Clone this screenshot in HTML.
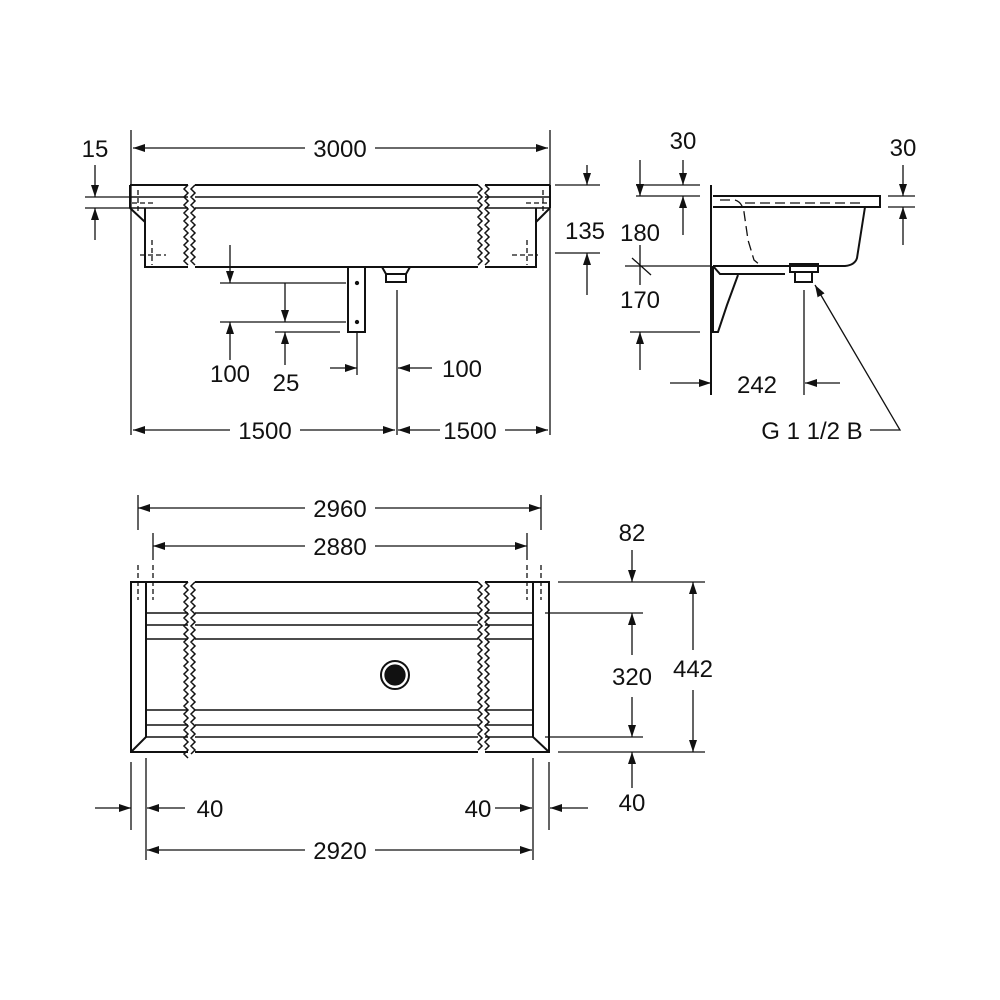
<!DOCTYPE html>
<html><head><style>body{margin:0;background:#fff}svg{display:block}text{font-family:"Liberation Sans",sans-serif;font-size:24px;fill:#111}</style></head>
<body>
<svg width="1000" height="1000" viewBox="0 0 1000 1000" xmlns="http://www.w3.org/2000/svg">
<defs>
<marker id="a" viewBox="0 0 12 8" refX="12" refY="4" markerWidth="12" markerHeight="8" markerUnits="userSpaceOnUse" orient="auto"><path d="M0,0 L12,4 L0,8 z" fill="#111"/></marker>
</defs>
<g stroke="#111" fill="none" stroke-width="1.3">
<!-- FRONT VIEW -->
<g stroke-width="2">
<path d="M130,185 H188 M195,185 H478 M485,185 H550"/>
<path d="M130,185 V208 M550,185 V208"/>
<path d="M130,197 H188 M195,197 H478 M485,197 H550" stroke-width="1.5"/>
<path d="M130,208 H188 M195,208 H478 M485,208 H550" stroke-width="1.5"/>
<path d="M145,208 V267 H188 M195,267 H478 M485,267 H536 V208"/>
<path d="M130,208 L145,222 M550,208 L536,222"/>
<path d="M348,267 V332 H365 V267"/>
<path d="M382,267 H410 L406,274 H386 Z M386,274 V282 H406 V274"/>
</g>
<path d="M188,185 l-4,4 4,4 -4,4 4,4 -4,4 4,4 -4,4 4,4 -4,4 4,4 -4,4 4,4 -4,4 4,4 -4,4 4,4 -4,4 4,4 -4,4 4,4 M195,185 l-4,4 4,4 -4,4 4,4 -4,4 4,4 -4,4 4,4 -4,4 4,4 -4,4 4,4 -4,4 4,4 -4,4 4,4 -4,4 4,4 -4,4 4,4 M478,185 l4,4 -4,4 4,4 -4,4 4,4 -4,4 4,4 -4,4 4,4 -4,4 4,4 -4,4 4,4 -4,4 4,4 -4,4 4,4 -4,4 4,4 -4,4 M485,185 l4,4 -4,4 4,4 -4,4 4,4 -4,4 4,4 -4,4 4,4 -4,4 4,4 -4,4 4,4 -4,4 4,4 -4,4 4,4 -4,4 4,4 -4,4" stroke-width="1.5"/>
<path d="M138,190 v22 M132,203 h22 M152,240 v25 M140,255 h26 M543,190 v22 M526,203 h22 M527,240 v25 M512,255 h26" stroke-dasharray="5,3"/>
<circle cx="357" cy="283" r="1.5" fill="#111"/><circle cx="357" cy="322" r="1.5" fill="#111"/>
<!-- front dims -->
<path d="M131,130 V435 M550,130 V435"/>
<path d="M305,148 H133" marker-end="url(#a)"/><path d="M375,148 H548" marker-end="url(#a)"/>
<path d="M85,197 H130 M85,208 H130"/>
<path d="M95,165 V197" marker-end="url(#a)"/><path d="M95,240 V208" marker-end="url(#a)"/>
<path d="M555,253 H600 M555,185 H600" />
<path d="M587,165 V185" marker-end="url(#a)"/><path d="M587,295 V253" marker-end="url(#a)"/>
<path d="M220,283 H346 M220,322 H346 M275,332 H340"/>
<path d="M230,245 V283" marker-end="url(#a)"/><path d="M230,360 V322" marker-end="url(#a)"/>
<path d="M285,283 V322" marker-end="url(#a)"/><path d="M285,365 V332" marker-end="url(#a)"/>
<path d="M357,332 V375"/><path d="M330,368 H357" marker-end="url(#a)"/>
<path d="M397,290 V435"/><path d="M432,368 H398" marker-end="url(#a)"/>
<path d="M230,430 H133" marker-end="url(#a)"/><path d="M300,430 H395" marker-end="url(#a)"/>
<path d="M440,430 H398" marker-end="url(#a)"/><path d="M505,430 H548" marker-end="url(#a)"/>
<!-- SIDE VIEW -->
<g stroke-width="2">
<path d="M711,185 V395"/>
<path d="M713,196 H880 V207 H713"/>
<path d="M865,207 L857,258 Q855,265 845,266 H713"/>
<path d="M713,266 L720,274 H785 M713,266 V332 H718 L727,305 L738,275"/>
<path d="M790,264 H818 V272 H790 Z M795,272 V282 H812 V272"/>
</g>
<path d="M720,200 H735 Q742,202 744,212 L748,240 L754,260 L760,265 M745,203 H860" stroke-dasharray="10,5"/>
<path d="M636,185 H700 M636,196 H700 M625,266 H711 M630,332 H700 M888,196 H915 M888,207 H915"/>
<path d="M632,258 L651,275"/>
<path d="M683,160 V185" marker-end="url(#a)"/><path d="M683,235 V196" marker-end="url(#a)"/>
<path d="M640,160 V196" marker-end="url(#a)"/><path d="M640,370 V332" marker-end="url(#a)"/>
<path d="M640,245 V285"/>
<path d="M903,165 V196" marker-end="url(#a)"/><path d="M903,245 V207" marker-end="url(#a)"/>
<path d="M804,290 V395"/>
<path d="M670,383 H711" marker-end="url(#a)"/><path d="M840,383 H805" marker-end="url(#a)"/>
<path d="M870,430 H900 L815,285" marker-end="url(#a)"/>
<!-- TOP VIEW -->
<g stroke-width="2">
<path d="M188,582 H131 V752 H188 M195,582 H478 M195,752 H478 M485,582 H549 V752 H485"/>
<path d="M146,582 V737 L131,752 M533,582 V737 L549,752"/>
</g>
<path d="M146,613 H188 M195,613 H478 M485,613 H533 M146,625 H188 M195,625 H478 M485,625 H533 M146,639 H188 M195,639 H478 M485,639 H533 M146,710 H188 M195,710 H478 M485,710 H533 M146,725 H188 M195,725 H478 M485,725 H533 M146,737 H188 M195,737 H478 M485,737 H533" stroke-width="1.5"/>
<path d="M188,582 l-4,4 4,4 -4,4 4,4 -4,4 4,4 -4,4 4,4 -4,4 4,4 -4,4 4,4 -4,4 4,4 -4,4 4,4 -4,4 4,4 -4,4 4,4 -4,4 4,4 -4,4 4,4 -4,4 4,4 -4,4 4,4 -4,4 4,4 -4,4 4,4 -4,4 4,4 -4,4 4,4 -4,4 4,4 -4,4 4,4 -4,4 4,4 -4,4 4,4 M195,582 l-4,4 4,4 -4,4 4,4 -4,4 4,4 -4,4 4,4 -4,4 4,4 -4,4 4,4 -4,4 4,4 -4,4 4,4 -4,4 4,4 -4,4 4,4 -4,4 4,4 -4,4 4,4 -4,4 4,4 -4,4 4,4 -4,4 4,4 -4,4 4,4 -4,4 4,4 -4,4 4,4 -4,4 4,4 -4,4 4,4 -4,4 4,4 -4,4 M478,582 l4,4 -4,4 4,4 -4,4 4,4 -4,4 4,4 -4,4 4,4 -4,4 4,4 -4,4 4,4 -4,4 4,4 -4,4 4,4 -4,4 4,4 -4,4 4,4 -4,4 4,4 -4,4 4,4 -4,4 4,4 -4,4 4,4 -4,4 4,4 -4,4 4,4 -4,4 4,4 -4,4 4,4 -4,4 4,4 -4,4 4,4 -4,4 M485,582 l4,4 -4,4 4,4 -4,4 4,4 -4,4 4,4 -4,4 4,4 -4,4 4,4 -4,4 4,4 -4,4 4,4 -4,4 4,4 -4,4 4,4 -4,4 4,4 -4,4 4,4 -4,4 4,4 -4,4 4,4 -4,4 4,4 -4,4 4,4 -4,4 4,4 -4,4 4,4 -4,4 4,4 -4,4 4,4 -4,4 4,4 -4,4" stroke-width="1.5"/>
<circle cx="395" cy="675" r="14" stroke-width="2"/>
<circle cx="395" cy="675" r="10" fill="#111"/>
<path d="M138,495 V530 M541,495 V530 M153,533 V560 M527,533 V560"/>
<path d="M138,565 V600 M153,565 V600 M527,565 V600 M541,565 V600" stroke-dasharray="5,3"/>
<path d="M305,508 H138" marker-end="url(#a)"/><path d="M375,508 H541" marker-end="url(#a)"/>
<path d="M305,546 H153" marker-end="url(#a)"/><path d="M375,546 H527" marker-end="url(#a)"/>
<path d="M558,582 H705 M545,613 H643 M545,737 H643 M558,752 H705"/>
<path d="M632,550 V582" marker-end="url(#a)"/>
<path d="M693,650 V582" marker-end="url(#a)"/><path d="M693,690 V752" marker-end="url(#a)"/>
<path d="M632,655 V613" marker-end="url(#a)"/><path d="M632,697 V737" marker-end="url(#a)"/>
<path d="M632,788 V752" marker-end="url(#a)"/>
<path d="M131,762 V830 M146,758 V860 M533,758 V860 M549,762 V830"/>
<path d="M95,808 H131" marker-end="url(#a)"/><path d="M185,808 H147" marker-end="url(#a)"/>
<path d="M495,808 H532" marker-end="url(#a)"/><path d="M588,808 H550" marker-end="url(#a)"/>
<path d="M305,850 H147" marker-end="url(#a)"/><path d="M375,850 H532" marker-end="url(#a)"/>
</g>
<g text-anchor="middle">
<text x="340" y="157">3000</text>
<text x="95" y="157">15</text>
<text x="585" y="239">135</text>
<text x="230" y="382">100</text>
<text x="286" y="391">25</text>
<text x="462" y="377">100</text>
<text x="265" y="439">1500</text>
<text x="470" y="439">1500</text>
<text x="683" y="149">30</text>
<text x="903" y="156">30</text>
<text x="640" y="241">180</text>
<text x="640" y="308">170</text>
<text x="757" y="393">242</text>
<text x="812" y="439">G 1 1/2 B</text>
<text x="340" y="517">2960</text>
<text x="340" y="555">2880</text>
<text x="632" y="541">82</text>
<text x="632" y="685">320</text>
<text x="693" y="677">442</text>
<text x="632" y="811">40</text>
<text x="210" y="817">40</text>
<text x="478" y="817">40</text>
<text x="340" y="859">2920</text>
</g>
</svg>
</body></html>
